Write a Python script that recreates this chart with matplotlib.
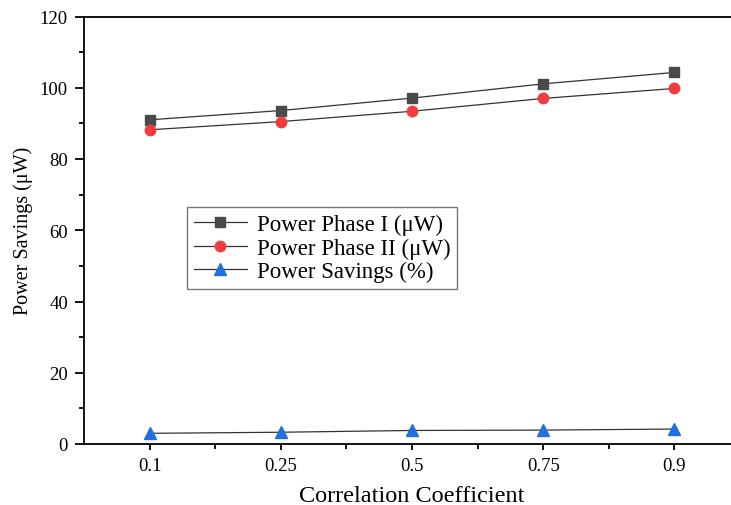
import matplotlib
matplotlib.use("Agg")
from matplotlib import pyplot as plt
import numpy as np

plt.rcParams['font.family'] = ['Liberation Serif', 'DejaVu Serif']

categories = ["0.1", "0.25", "0.5", "0.75", "0.9"]
phase1 = [91.0, 93.6, 97.1, 101.1, 104.3]
phase2 = [88.2, 90.5, 93.4, 97.0, 99.8]
savings = [3.0, 3.3, 3.8, 3.9, 4.2]

x = np.arange(1, len(categories) + 1)

fig = plt.figure(figsize=(7.31, 5.06), dpi=100)
# right edge of the frame falls outside the picture, as in the original
ax = fig.add_axes([84/731, 1 - 445/506, 656/731, (445 - 17.5)/506])

line_col = '#333333'
ax.plot(x, phase1, color=line_col, lw=0.9, marker='s', ms=7.5,
        mfc='#4a4a4a', mec='#4a4a4a', label='Power Phase I (\u03bcW)')
ax.plot(x, phase2, color=line_col, lw=0.9, marker='o', ms=7.5,
        mfc='#f03c3c', mec='#f03c3c', label='Power Phase II (\u03bcW)')
ax.plot(x, savings, color=line_col, lw=0.9, marker='^', ms=8.5,
        mfc='#2170de', mec='#2170de', label='Power Savings (%)')

ax.set_xlim(0.5, 5.5)
ax.set_ylim(0, 120)
ax.set_xticks(x)
ax.set_xticklabels(categories)
ax.set_xticks(x[:-1] + 0.5, minor=True)
ax.set_yticks(np.arange(0, 121, 20))
ax.set_yticks(np.arange(10, 120, 20), minor=True)

for s in ax.spines.values():
    s.set_linewidth(1.3)
ax.spines['right'].set_visible(False)

ax.tick_params(axis='y', which='major', direction='out', length=6.5, width=1.3,
               labelsize=13.5, pad=5)
ax.tick_params(axis='y', which='minor', direction='out', length=3.3, width=1.3)
ax.tick_params(axis='x', which='major', direction='out', length=4.5, width=1.3,
               labelsize=13.5, pad=5)
ax.tick_params(axis='x', which='minor', direction='out', length=3.3, width=1.3)

ax.set_xlabel('Correlation Coefficient', fontsize=17.5, labelpad=8)
ax.set_ylabel('Power Savings (\u03bcW)', fontsize=14.5, labelpad=5)

leg = ax.legend(loc='upper left', bbox_to_anchor=(187/731, 1 - 208/506),
                bbox_transform=fig.transFigure, borderaxespad=0,
                fancybox=False, frameon=True, fontsize=16.5,
                handlelength=2.3, handletextpad=0.45, labelspacing=0.1,
                borderpad=0.3)
leg.get_frame().set_edgecolor('#555555')
leg.get_frame().set_linewidth(1.0)

fig.savefig("out.png", dpi=100)
